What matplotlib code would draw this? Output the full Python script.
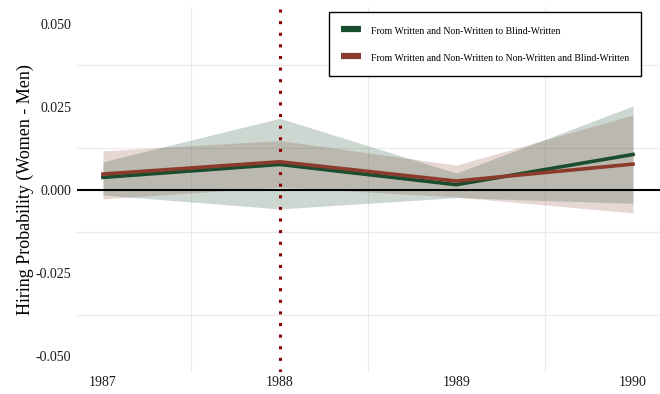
import matplotlib
matplotlib.use("Agg")
import matplotlib.pyplot as plt
from matplotlib.ticker import FixedLocator

plt.rcParams['font.family'] = ['Liberation Serif', 'DejaVu Serif']

years = [1987, 1988, 1989, 1990]

# from written and non-written to blind-written
blind_est = [0.0038, 0.0077, 0.0016, 0.0107]
blind_lo = [-0.0015, -0.0057, -0.0023, -0.0040]
blind_hi = [0.0085, 0.0216, 0.0051, 0.0253]

# from written and non-written to non-written and blind-written
nonw_est = [0.0048, 0.0085, 0.0027, 0.0078]
nonw_lo = [-0.0027, 0.0009, -0.0021, -0.0069]
nonw_hi = [0.0118, 0.0149, 0.0075, 0.0226]

label_blind = 'From Written and Non-Written to Blind-Written'
label_nonw = 'From Written and Non-Written to Non-Written and Blind-Written'

green = '#1a4d2e'
red = '#8b3a2b'

fig = plt.figure(figsize=(6.6, 3.94), dpi=100)
ax = fig.add_axes([0.1167, 0.0558, 0.8833, 0.9264])

ax.fill_between(years, nonw_lo, nonw_hi, color=red, alpha=0.2, linewidth=0)
ax.fill_between(years, blind_lo, blind_hi, color=green, alpha=0.22, linewidth=0)

ax.axhline(0, color='black', linewidth=1.5, zorder=3)
ax.axvline(1988, color='#8b0000', linewidth=2.2, linestyle=(0, (1, 2.8)),
           dash_capstyle='butt', zorder=4)

ax.plot(years, blind_est, color=green, linewidth=2.6, label=label_blind, zorder=5,
        solid_joinstyle='miter')
ax.plot(years, nonw_est, color=red, linewidth=2.6, label=label_nonw, zorder=5,
        solid_joinstyle='miter')

ax.set_xlim(1986.853, 1990.153)
ax.set_ylim(-0.0548, 0.0551)
ax.set_xticks(years)
ax.set_xticklabels([str(y) for y in years])
ax.set_yticks([-0.05, -0.025, 0, 0.025, 0.05])
ax.set_yticklabels(['-0.050', '-0.025', '0.000', '0.025', '0.050'])

# only the in-between grid lines are drawn
ax.xaxis.set_minor_locator(FixedLocator([1987.5, 1988.5, 1989.5]))
ax.yaxis.set_minor_locator(FixedLocator([-0.0375, -0.0125, 0.0125, 0.0375]))
ax.grid(which='minor', color='#ebebeb', linewidth=0.8)
ax.grid(which='major', visible=False)
ax.set_axisbelow(True)

ax.tick_params(which='both', length=0, labelsize=10, colors='#1a1a1a')
ax.tick_params(axis='x', pad=3)
ax.tick_params(axis='y', pad=4)
for s in ax.spines.values():
    s.set_visible(False)

ax.set_ylabel('Hiring Probability (Women - Men)', fontsize=13, labelpad=1)

leg = ax.legend(loc='upper right', bbox_to_anchor=(0.967, 0.985), fontsize=7.0,
                frameon=True, fancybox=False, edgecolor='black', framealpha=1,
                handlelength=2.1, handleheight=1.7, handletextpad=1.0,
                labelspacing=1.4, borderpad=1.2, borderaxespad=0)
leg.get_frame().set_linewidth(1.0)
for h in leg.get_lines():
    h.set_linewidth(4.5)
    h.set_solid_capstyle('butt')

fig.savefig('out.png', dpi=100)
